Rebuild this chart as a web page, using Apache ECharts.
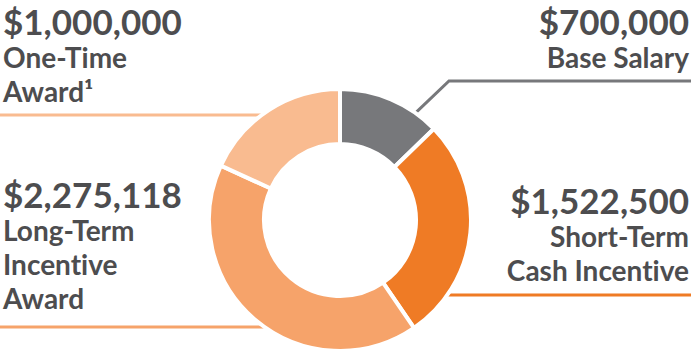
<!DOCTYPE html>
<html>
<head>
<meta charset="utf-8">
<script src="https://cdn.jsdelivr.net/npm/echarts@6/dist/echarts.min.js"></script>
<style>html,body{margin:0;padding:0;background:#fff;}#c{width:697px;height:357px;}#c text{font-variant-ligatures:none;font-feature-settings:"liga" 0;}</style>
</head>
<body>
<div id="c"></div>
<script>
// ---- data ----
const categories = ['Base Salary', 'Short-Term\nCash Incentive', 'Long-Term\nIncentive\nAward', 'One-Time\nAward¹'];
const values = [700000, 1522500, 2275118, 1000000];
const colors = ['#77787b', '#ef7b25', '#f6a36a', '#f9bb90'];

// ---- layout ----
const CX = 340, CY = 220, R = 129;
const TEXT = '#4d4d4f';
const FONT = 'Lato';

function fmt(v) { return '$' + v.toLocaleString('en-US'); }
function edgeAtY(y, side) { return CX + side * Math.sqrt(R * R - (y - CY) * (y - CY)); }
function edgeAtAngle(deg) { const a = deg * Math.PI / 180; return [CX + R * Math.sin(a), CY - R * Math.cos(a)]; }

// label placement per slice
const layouts = [
  { x: 689, y: 2, align: 'right', pts: [edgeAtAngle(35), [449, 81], [691, 81]] },
  { x: 689, y: 181, align: 'right', pts: [[edgeAtY(295, 1), 295], [560, 295], [691, 295]] },
  { x: 3, y: 175, align: 'left', pts: [[edgeAtY(327, -1), 327], [130, 327], [0, 327]] },
  { x: 3, y: 2, align: 'left', pts: [[edgeAtY(115, -1), 115], [130, 115], [0, 115]] }
];

const chart = echarts.init(document.getElementById('c'), null, { renderer: 'svg' });
chart.setOption({
  animation: false,
  series: [{
    type: 'pie',
    center: [CX, CY],
    radius: [76, 131],
    startAngle: 90,
    clockwise: true,
    avoidLabelOverlap: false,
    emphasis: { disabled: true },
    itemStyle: { borderColor: '#fff', borderWidth: 4 },
    data: categories.map((c, i) => ({
      name: c, value: values[i],
      itemStyle: { color: colors[i] },
      labelLine: { lineStyle: { color: colors[i], width: 3 } }
    })),
    label: {
      show: true,
      position: 'outside',
      formatter: p => '{v|' + fmt(p.value) + '}\n' + p.name.split('\n').map(s => '{l|' + s + '}').join('\n'),
      rich: {
        v: { fontFamily: FONT, fontWeight: 'bold', fontSize: 35, lineHeight: 38, color: TEXT },
        l: { fontFamily: FONT, fontWeight: 'bold', fontSize: 28, lineHeight: 34, color: TEXT }
      }
    },
    labelLine: { show: true, smooth: false, length: 10, length2: 10 },
    labelLayout: p => {
      const L = layouts[p.dataIndex];
      return { x: L.x, y: L.y, align: L.align, verticalAlign: 'top', labelLinePoints: L.pts };
    }
  }]
});
</script>
</body>
</html>
